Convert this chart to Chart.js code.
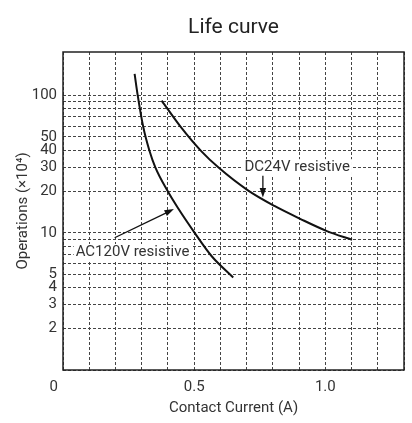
<!DOCTYPE html>
<html>
<head>
<meta charset="utf-8">
<script src="https://cdn.jsdelivr.net/npm/chart.js@4.4.0/dist/chart.umd.min.js"></script>
<style>
  html, body { margin: 0; padding: 0; background: #fff; }
  #wrap { width: 412px; height: 423px; position: relative; }
</style>
</head>
<body>
<div id="wrap"><canvas id="lifeChart"></canvas></div>
<script>
// curve data (current in A, operations in x10^4)
const acCurrent = [0.273, 0.285, 0.306, 0.329, 0.352, 0.400, 0.437, 0.502, 0.567, 0.649];
const acOperations = [144, 100, 59, 40, 30, 20, 15.3, 10, 6.75, 4.72];
const dcCurrent = [0.376, 0.448, 0.527, 0.593, 0.705, 0.806, 0.906, 1.006, 1.102];
const dcOperations = [92, 59.4, 39.4, 29.9, 20.4, 15.7, 12.6, 10.3, 8.9];

// grid and tick labels
const xGridValues = [0, 0.1, 0.2, 0.3, 0.4, 0.5, 0.6, 0.7, 0.8, 0.9, 1.0, 1.1, 1.2, 1.3];
const xLabelValues = [0, 0.5, 1.0];
const xLabelTexts = ['0     ', '0.5', '1.0']; // "0" sits a bit left of the axis in the original
const yGridValues = [1, 2, 3, 4, 5, 6, 7, 8, 9, 10, 20, 30, 40, 50, 60, 70, 80, 90, 100];
const yLabelValues = [2, 3, 4, 5, 10, 20, 30, 40, 50, 100];

// annotations
const noteTexts = ['AC120V resistive', 'DC24V resistive'];
const noteX = [0.265, 0.893];
const noteY = [7.25, 30.1];
const arrowFromX = [0.197, 0.762];
const arrowFromY = [9.2, 26.1];
const arrowToX = [0.423, 0.762];
const arrowToY = [14.9, 18.1];

const FONT = 'Roboto, "Noto Sans", sans-serif';
const INK = '#333';

const toPoints = (xs, ys) => xs.map((x, i) => ({ x: x, y: ys[i] }));

// frame around the plot + title centred over the plot area
const framePlugin = {
  id: 'frame',
  beforeDatasetsDraw(chart) {
    const { ctx, chartArea: a } = chart;
    ctx.save();
    ctx.strokeStyle = '#222';
    ctx.lineWidth = 1.5;
    ctx.strokeRect(a.left, a.top, a.right - a.left, a.bottom - a.top);
    ctx.restore();
  },
  afterDraw(chart) {
    const { ctx, chartArea: a } = chart;
    ctx.save();
    ctx.fillStyle = '#222';
    ctx.font = '21px ' + FONT;
    ctx.textAlign = 'center';
    ctx.textBaseline = 'middle';
    ctx.fillText('Life curve', (a.left + a.right) / 2, 28);
    ctx.restore();
  }
};

// text labels with white box and arrows pointing to the curves
const notesPlugin = {
  id: 'notes',
  afterDatasetsDraw(chart) {
    const { ctx } = chart;
    const xs = chart.scales.x, ys = chart.scales.y;
    ctx.save();
    ctx.font = '15px ' + FONT;
    ctx.textAlign = 'center';
    ctx.textBaseline = 'middle';
    noteTexts.forEach((t, i) => {
      const px = xs.getPixelForValue(noteX[i]);
      const py = ys.getPixelForValue(noteY[i]);
      const w = ctx.measureText(t).width;
      ctx.fillStyle = '#fff';
      ctx.fillRect(px - w / 2 - 2, py - 8, w + 4, 16);
      ctx.fillStyle = INK;
      ctx.fillText(t, px, py);
    });
    ctx.strokeStyle = '#111';
    ctx.fillStyle = '#111';
    ctx.lineWidth = 1.3;
    arrowFromX.forEach((fx, i) => {
      const x1 = xs.getPixelForValue(fx), y1 = ys.getPixelForValue(arrowFromY[i]);
      const x2 = xs.getPixelForValue(arrowToX[i]), y2 = ys.getPixelForValue(arrowToY[i]);
      const ang = Math.atan2(y2 - y1, x2 - x1);
      const head = 10;
      ctx.beginPath();
      ctx.moveTo(x1, y1);
      ctx.lineTo(x2 - Math.cos(ang) * head * 0.8, y2 - Math.sin(ang) * head * 0.8);
      ctx.stroke();
      ctx.beginPath();
      ctx.moveTo(x2, y2);
      ctx.lineTo(x2 - head * Math.cos(ang - 0.33), y2 - head * Math.sin(ang - 0.33));
      ctx.lineTo(x2 - head * Math.cos(ang + 0.33), y2 - head * Math.sin(ang + 0.33));
      ctx.closePath();
      ctx.fill();
    });
    ctx.restore();
  }
};

new Chart(document.getElementById('lifeChart'), {
  type: 'scatter',
  data: {
    datasets: [
      {
        label: 'AC120V resistive',
        data: toPoints(acCurrent, acOperations),
        showLine: true,
        borderColor: '#111',
        borderWidth: 2,
        pointRadius: 0,
        cubicInterpolationMode: 'monotone'
      },
      {
        label: 'DC24V resistive',
        data: toPoints(dcCurrent, dcOperations),
        showLine: true,
        borderColor: '#111',
        borderWidth: 2,
        pointRadius: 0,
        cubicInterpolationMode: 'monotone'
      }
    ]
  },
  options: {
    responsive: true,
    maintainAspectRatio: false,
    devicePixelRatio: 1,
    animation: false,
    layout: { padding: { top: 52, right: 4, left: 10, bottom: 2 } },
    plugins: {
      legend: { display: false },
      tooltip: { enabled: false }
    },
    scales: {
      x: {
        type: 'linear',
        min: 0,
        max: 1.3,
        afterBuildTicks: s => { s.ticks = xGridValues.map(v => ({ value: v })); },
        afterFit: s => { s.height = 51; },
        grid: { color: '#444', lineWidth: 1, drawTicks: false },
        border: { display: false, dash: [3, 2] },
        ticks: {
          autoSkip: false,
          maxRotation: 0,
          padding: 8,
          color: INK,
          font: { family: FONT, size: 15 },
          callback: v => {
            const i = xLabelValues.findIndex(l => Math.abs(l - v) < 1e-6);
            return i >= 0 ? xLabelTexts[i] : '';
          }
        },
        title: {
          display: true,
          text: 'Contact Current (A)',
          color: INK,
          font: { family: FONT, size: 15 }
        }
      },
      y: {
        type: 'logarithmic',
        min: 1,
        max: 208,
        afterBuildTicks: s => { s.ticks = yGridValues.map(v => ({ value: v })); },
        afterFit: s => { s.width = 53; },
        grid: { color: '#444', lineWidth: 1, drawTicks: false },
        border: { display: false, dash: [3, 2] },
        ticks: {
          autoSkip: false,
          padding: 6,
          color: INK,
          font: { family: FONT, size: 15 },
          callback: v => (yLabelValues.includes(v) ? String(v) : '')
        },
        title: {
          display: true,
          text: 'Operations (×10⁴)',
          color: INK,
          font: { family: FONT, size: 15 }
        }
      }
    }
  },
  plugins: [framePlugin, notesPlugin]
});
</script>
</body>
</html>
